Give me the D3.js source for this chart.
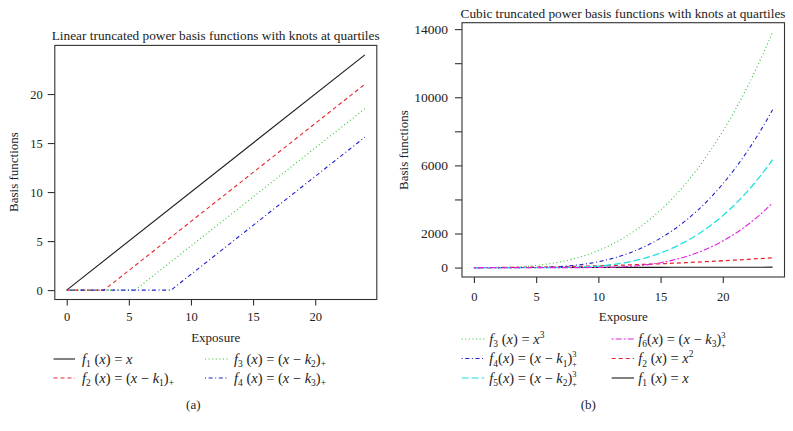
<!DOCTYPE html>
<html>
<head>
<meta charset="utf-8">
<script src="https://cdn.jsdelivr.net/npm/d3@7/dist/d3.min.js"></script>
<style>
  html, body { margin: 0; padding: 0; background: #fff; }
  svg { display: block; }
  text { font-family: "Liberation Serif", "DejaVu Serif", serif; fill: #222; }
</style>
</head>
<body>
<svg id="chart" width="793" height="431"></svg>
<script>
// ---------- DATA ----------
// Panel (a): linear truncated power basis (knots at quartiles)
const linearXTicks = [0, 5, 10, 15, 20];
const linearYTicks = [0, 5, 10, 15, 20];
const linF1X = [0, 24];        const linF1Y = [0, 24];
const linF2X = [0, 3.0, 24];   const linF2Y = [0, 0, 21.0];
const linF3X = [0, 5.5, 24];   const linF3Y = [0, 0, 18.5];
const linF4X = [0, 8.4, 24];   const linF4Y = [0, 0, 15.6];

// Panel (b): cubic truncated power basis, sampled at exposure 0..24
const cubicX = [0,1,2,3,4,5,6,7,8,9,10,11,12,13,14,15,16,17,18,19,20,21,22,23,24];
const cubF1 = [0,1,2,3,4,5,6,7,8,9,10,11,12,13,14,15,16,17,18,19,20,21,22,23,24];
const cubF2 = [0,1,4,9,16,25,36,49,64,81,100,121,144,169,196,225,256,289,324,361,400,441,484,529,576];
const cubF3 = [0,1,8,27,64,125,216,343,512,729,1000,1331,1728,2197,2744,3375,4096,4913,5832,6859,8000,9261,10648,12167,13824];
const cubF4 = [0,0,0,0,1,8,27,64,125,216,343,512,729,1000,1331,1728,2197,2744,3375,4096,4913,5832,6859,8000,9261];
const cubF5 = [0,0,0,0,0,0,0.1,3.4,15.6,42.9,91.1,166.4,274.6,421.9,614.1,857.4,1157.6,1520.9,1953.1,2460.4,3048.6,3723.9,4492.1,5359.4,6331.6];
const cubF6 = [0,0,0,0,0,0,0,0,0,0.2,4.1,17.6,46.7,97.3,175.6,287.5,439.0,636.1,884.7,1191.0,1560.9,2000.4,2515.5,3112.1,3796.4];
const cubicXTicks = [0, 5, 10, 15, 20];
const cubicYTicks = [0, 2000, 4000, 6000, 8000, 10000, 12000, 14000];
const cubicYLabelled = [0, 2000, 6000, 10000, 14000];

// ---------- STYLE ----------
const COL = {black:"#1a1a1a", red:"#e8242c", green:"#2fc42f", blue:"#2020c8", cyan:"#1fe0e0", magenta:"#e020e0"};
const LTY = {solid:null, dashed:"4,3", dotted:"1,2.6", dotdash:"1,2.6,4,2.6", longdash:"7,3", twodash:"2,2,6,2"};

const svg = d3.select("#chart");

function drawPanel(cfg) {
  const g = svg.append("g");
  const x = d3.scaleLinear().domain(cfg.xDomain).range(cfg.xRange);
  const y = d3.scaleLinear().domain(cfg.yDomain).range(cfg.yRange);

  cfg.series.forEach(s => {
    const pts = s.xs.map((v, i) => [v, s.ys[i]]);
    const line = d3.line().x(d => x(d[0])).y(d => y(d[1])).curve(s.curve || d3.curveLinear);
    g.append("path").attr("d", line(pts))
      .attr("fill", "none").attr("stroke", s.color).attr("stroke-width", s.width || 1.1)
      .attr("stroke-dasharray", s.dash);
  });

  g.append("rect")
    .attr("x", cfg.xRange[0]).attr("y", cfg.yRange[1])
    .attr("width", cfg.xRange[1] - cfg.xRange[0]).attr("height", cfg.yRange[0] - cfg.yRange[1])
    .attr("fill", "none").attr("stroke", "#333").attr("stroke-width", 1.1);

  const xa = g.append("g").attr("transform", `translate(0,${cfg.yRange[0]})`)
    .call(d3.axisBottom(x).tickValues(cfg.xTicks).tickSize(6).tickPadding(cfg.xPad).tickFormat(d3.format("d")));
  xa.attr("font-family", null);
  xa.select(".domain").remove();
  xa.selectAll("line").attr("stroke", "#333").attr("stroke-width", 1.1);
  xa.selectAll("text").attr("font-family", "Liberation Serif").attr("font-size", cfg.xFont).attr("fill", "#222");

  const ya = g.append("g").attr("transform", `translate(${cfg.xRange[0]},0)`)
    .call(d3.axisLeft(y).tickValues(cfg.yTicks).tickSize(7).tickPadding(cfg.yPad)
      .tickFormat(d => (cfg.yLabelled ? (cfg.yLabelled.includes(d) ? d3.format("d")(d) : "") : d3.format("d")(d))));
  ya.attr("font-family", null);
  ya.select(".domain").remove();
  ya.selectAll("line").attr("stroke", "#333").attr("stroke-width", 1.1);
  ya.selectAll("text").attr("font-family", "Liberation Serif").attr("font-size", cfg.yFont).attr("fill", "#222");

  g.append("text").attr("x", cfg.titleX).attr("y", cfg.titleY).attr("text-anchor", "middle")
    .attr("font-size", 13.3).text(cfg.title);
  g.append("text").attr("x", cfg.xLabX).attr("y", cfg.xLabY).attr("text-anchor", "middle")
    .attr("font-size", 13).text("Exposure");
  g.append("text").attr("transform", `translate(${cfg.yLabX},${cfg.yLabY}) rotate(-90)`)
    .attr("text-anchor", "middle").attr("font-size", 13).text("Basis functions");
  g.append("text").attr("x", cfg.tagX).attr("y", 409).attr("text-anchor", "middle")
    .attr("font-size", 13).text(cfg.tag);

  cfg.legend.forEach(item => {
    const s = item.s;
    g.append("line").attr("x1", item.lx0).attr("x2", item.lx1).attr("y1", item.y).attr("y2", item.y)
      .attr("stroke", s.color).attr("stroke-width", 1.1).attr("stroke-dasharray", s.dash);
    const t = g.append("text").attr("x", item.tx).attr("y", item.y + 4.8).attr("font-size", 14.5);
    renderMath(t, s.label);
  });
}

// label token renderer: [text, kind] kind: n normal, i italic, sub, sup, supsub
function renderMath(t, tokens) {
  let shift = 0;
  tokens.forEach(tok => {
    const [str, kind] = tok;
    if (kind === "n" || kind === "i") {
      t.append("tspan").attr("dy", -shift).attr("font-style", kind === "i" ? "italic" : "normal").text(str);
      shift = 0;
    } else if (kind === "sub") {
      t.append("tspan").attr("dy", 3.6 - shift).attr("font-size", 9.5).text(str);
      shift = 3.6;
    } else if (kind === "sup") {
      t.append("tspan").attr("dy", -6 - shift).attr("font-size", 9.5).text(str);
      shift = -6;
    } else if (kind === "supsub") {
      const [sp, sb] = str;
      t.append("tspan").attr("dy", -6 - shift).attr("font-size", 8.5).text(sp);
      t.append("tspan").attr("dx", -4.5).attr("dy", 10).attr("font-size", 8.5).text(sb);
      shift = 4;
    }
  });
}

// ---------- PANEL (a) ----------
const sA1 = {xs: linF1X, ys: linF1Y, color: COL.black, dash: LTY.solid,
  label: [["f","i"],["1","sub"],[" (","n"],["x","i"],[") = ","n"],["x","i"]]};
const sA2 = {xs: linF2X, ys: linF2Y, color: COL.red, dash: LTY.dashed,
  label: [["f","i"],["2","sub"],[" (","n"],["x","i"],[") = (","n"],["x","i"],[" − ","n"],["k","i"],["1","sub"],[")","n"],["+","sub"]]};
const sA3 = {xs: linF3X, ys: linF3Y, color: COL.green, dash: LTY.dotted,
  label: [["f","i"],["3","sub"],[" (","n"],["x","i"],[") = (","n"],["x","i"],[" − ","n"],["k","i"],["2","sub"],[")","n"],["+","sub"]]};
const sA4 = {xs: linF4X, ys: linF4Y, color: COL.blue, dash: LTY.dotdash,
  label: [["f","i"],["4","sub"],[" (","n"],["x","i"],[") = (","n"],["x","i"],[" − ","n"],["k","i"],["3","sub"],[")","n"],["+","sub"]]};

drawPanel({
  xDomain: [-0.96, 24.96], xRange: [54.8, 376.8],
  yDomain: [-0.96, 24.96], yRange: [299.5, 45.4],
  xTicks: linearXTicks, yTicks: linearYTicks, xPad: 7, yPad: 5, xFont: 12.5, yFont: 12.5,
  series: [sA1, sA2, sA3, sA4],
  title: "Linear truncated power basis functions with knots at quartiles", titleX: 215.7, titleY: 40,
  xLabX: 215.7, xLabY: 342, yLabX: 17.5, yLabY: 172, tag: "(a)", tagX: 193.3,
  legend: [
    {s: sA1, y: 359, lx0: 53.5, lx1: 75, tx: 82},
    {s: sA2, y: 378, lx0: 53.5, lx1: 75, tx: 82},
    {s: sA3, y: 359, lx0: 205, lx1: 228, tx: 234},
    {s: sA4, y: 378, lx0: 205, lx1: 228, tx: 234}
  ]
});

// ---------- PANEL (b) ----------
const sB1 = {xs: cubicX, ys: cubF1, color: COL.black, dash: LTY.solid,
  label: [["f","i"],["1","sub"],[" (","n"],["x","i"],[") = ","n"],["x","i"]]};
const sB2 = {xs: cubicX, ys: cubF2, color: COL.red, dash: LTY.dashed, curve: d3.curveMonotoneX, width: 1.3,
  label: [["f","i"],["2","sub"],[" (","n"],["x","i"],[") = ","n"],["x","i"],["2","sup"]]};
const sB3 = {xs: cubicX, ys: cubF3, color: COL.green, dash: LTY.dotted, curve: d3.curveMonotoneX,
  label: [["f","i"],["3","sub"],[" (","n"],["x","i"],[") = ","n"],["x","i"],["3","sup"]]};
const sB4 = {xs: cubicX, ys: cubF4, color: COL.blue, dash: LTY.dotdash, curve: d3.curveMonotoneX,
  label: [["f","i"],["4","sub"],["(","n"],["x","i"],[") = (","n"],["x","i"],[" − ","n"],["k","i"],["1","sub"],[")","n"],[["3","+"],"supsub"]]};
const sB5 = {xs: cubicX, ys: cubF5, color: COL.cyan, dash: LTY.longdash, curve: d3.curveMonotoneX, width: 1.3,
  label: [["f","i"],["5","sub"],["(","n"],["x","i"],[") = (","n"],["x","i"],[" − ","n"],["k","i"],["2","sub"],[")","n"],[["3","+"],"supsub"]]};
const sB6 = {xs: cubicX, ys: cubF6, color: COL.magenta, dash: LTY.twodash, curve: d3.curveMonotoneX,
  label: [["f","i"],["6","sub"],["(","n"],["x","i"],[") = (","n"],["x","i"],[" − ","n"],["k","i"],["3","sub"],[")","n"],[["3","+"],"supsub"]]};

drawPanel({
  xDomain: [-0.96, 24.96], xRange: [462, 784.5],
  yDomain: [-553, 14377], yRange: [277, 22.7],
  xTicks: cubicXTicks, yTicks: cubicYTicks, yLabelled: cubicYLabelled, xPad: 9.5, yPad: 7, xFont: 12.5, yFont: 13.5,
  series: [sB1, sB2, sB3, sB4, sB5, sB6],
  title: "Cubic truncated power basis functions with knots at quartiles", titleX: 623, titleY: 17.5,
  xLabX: 623.3, xLabY: 320.5, yLabX: 407.5, yLabY: 150, tag: "(b)", tagX: 588.3,
  legend: [
    {s: sB3, y: 339, lx0: 461.7, lx1: 484.3, tx: 489.3},
    {s: sB4, y: 358.5, lx0: 461.7, lx1: 484.3, tx: 489.3},
    {s: sB5, y: 378, lx0: 461.7, lx1: 484.3, tx: 489.3},
    {s: sB6, y: 339, lx0: 611.7, lx1: 634, tx: 638.3},
    {s: sB2, y: 358.5, lx0: 611.7, lx1: 634, tx: 638.3},
    {s: sB1, y: 378, lx0: 611.7, lx1: 634, tx: 638.3}
  ]
});
</script>
</body>
</html>
